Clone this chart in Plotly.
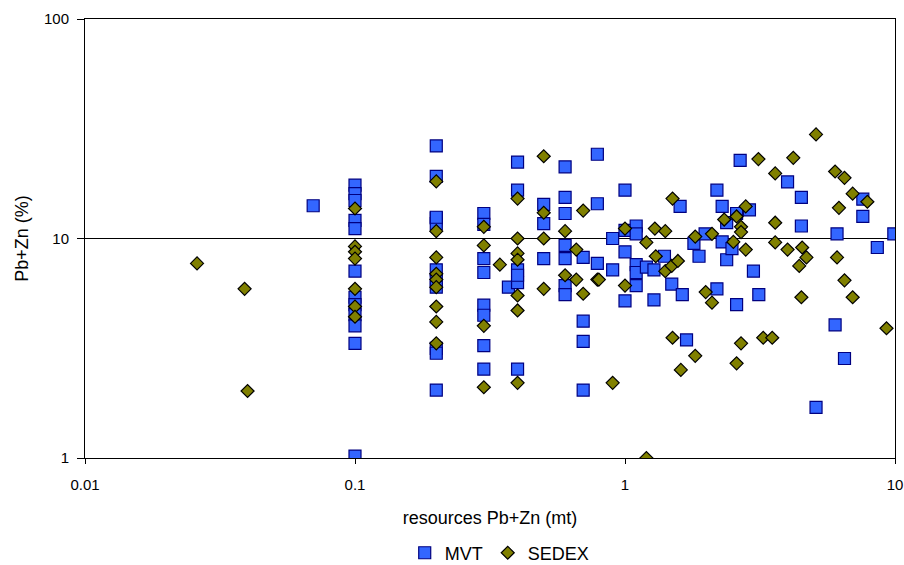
import plotly.graph_objects as go

# MVT deposits: resources Pb+Zn (mt), grade Pb+Zn (%)
mvt_x = [0.07,
         0.1, 0.1, 0.1, 0.1, 0.1, 0.1, 0.1, 0.1, 0.1, 0.1, 0.1, 0.1,
         0.2, 0.2, 0.2, 0.2, 0.2, 0.2, 0.2, 0.2, 0.2, 0.2, 0.2,
         0.3, 0.3, 0.3, 0.3, 0.3, 0.3, 0.3, 0.3,
         0.37,
         0.4, 0.4, 0.4, 0.4, 0.4, 0.4,
         0.5, 0.5, 0.5,
         0.6, 0.6, 0.6, 0.6, 0.6, 0.6, 0.6,
         0.7, 0.7, 0.7, 0.7,
         0.79, 0.79, 0.79, 0.9, 0.9,
         1.0, 1.0, 1.0, 1.0,
         1.1, 1.1, 1.1, 1.1, 1.1, 1.2, 1.28, 1.28, 1.4, 1.49, 1.6, 1.63, 1.69,
         1.8, 1.88, 1.98, 2.19, 2.19, 2.29, 2.29, 2.38, 2.38, 2.49, 2.59, 2.59, 2.67, 2.89, 2.99, 3.13,
         4.0, 4.5, 4.5, 5.1, 6.0, 6.1, 6.5, 7.6, 7.6, 8.6, 9.9]
mvt_y = [14.1,
         17.5, 16.0, 14.9, 12.1, 11.1, 7.1, 5.4, 5.0, 4.5, 4.0, 3.33, 1.02,
         26.4, 19.2, 12.4, 11.7, 7.2, 6.5, 6.0, 3.16, 3.0, 2.04, 12.5,
         13.0, 11.6, 8.1, 7.0, 4.97, 4.47, 3.25, 2.54,
         6.0,
         22.3, 16.6, 7.2, 6.3, 2.54, 6.8,
         14.3, 11.7, 8.1,
         21.2, 15.4, 13.0, 9.3, 8.1, 6.1, 5.55,
         8.2, 4.2, 3.4, 2.04,
         24.2, 14.4, 7.7, 10.0, 7.2,
         16.6, 8.7, 5.2, 10.9,
         11.4, 10.5, 7.6, 7.0, 6.1, 7.4, 7.2, 5.25, 8.3, 6.2, 14.0, 5.55, 3.45,
         9.5, 8.3, 10.5, 16.6, 5.9, 14.0, 9.65, 11.8, 8.0, 9.0, 13.0, 5.0, 22.7, 13.5, 7.1, 5.55,
         18.1, 15.4, 11.4, 1.7, 4.04, 10.5, 2.84, 15.1, 12.6, 9.1, 10.5]

# SEDEX deposits
sedex_x = [0.026, 0.039, 0.04,
           0.1, 0.1, 0.1, 0.1, 0.1, 0.1, 0.1,
           0.2, 0.2, 0.2, 0.2, 0.2, 0.2, 0.2, 0.2, 0.2,
           0.3, 0.3, 0.3, 0.3, 0.344,
           0.4, 0.4, 0.4, 0.4, 0.4, 0.4, 0.4,
           0.5, 0.5, 0.5, 0.5,
           0.6, 0.6, 0.66, 0.66, 0.7, 0.7, 0.79, 0.8, 0.9,
           1.0, 1.0, 1.2, 1.2, 1.29, 1.3, 1.41, 1.41, 1.49, 1.5, 1.5, 1.57, 1.61,
           1.82, 1.82, 1.99, 2.1, 2.1, 2.33, 2.52, 2.59, 2.59, 2.69, 2.69, 2.69, 2.8, 2.8,
           3.12, 3.25, 3.51, 3.6, 3.6, 3.6, 4.0, 4.2, 4.42, 4.5, 4.53, 4.7,
           5.1, 6.0, 6.1, 6.2, 6.5, 6.5, 6.97, 6.97, 7.9, 9.3]
sedex_y = [7.7, 5.9, 2.02,
           13.7, 9.2, 8.7, 8.1, 5.9, 4.9, 4.4,
           18.2, 10.8, 8.2, 6.9, 6.5, 6.0, 4.9, 4.17, 3.33,
           11.3, 9.3, 4.0, 2.1, 7.6,
           15.2, 10.0, 8.55, 8.0, 5.5, 4.7, 2.2,
           23.7, 13.1, 10.0, 5.9,
           10.8, 6.8, 8.9, 6.5, 13.4, 5.6, 6.5, 6.5, 2.2,
           11.1, 6.1, 9.6, 1.0, 11.1, 8.3, 10.8, 7.1, 7.5, 15.2, 3.53, 7.9, 2.52,
           10.2, 2.92, 5.7, 10.5, 5.1, 12.2, 9.65, 12.6, 2.7, 11.3, 10.7, 3.33, 14.0, 8.9,
           23.0, 3.53, 3.53, 19.8, 11.8, 9.6, 8.9, 23.3, 7.5, 5.4, 9.1, 8.2,
           29.8, 20.2, 8.2, 13.8, 18.9, 6.45, 16.0, 5.4, 14.7, 3.9]

x_ticks = [0.01, 0.1, 1, 10]
x_ticktext = ["0.01", "0.1", "1", "10"]
y_ticks = [1, 10, 100]
y_ticktext = ["1", "10", "100"]

fig = go.Figure()
fig.add_trace(go.Scatter(
    x=mvt_x, y=mvt_y, mode="markers", name="MVT",
    marker=dict(symbol="square", size=12, color="#3366FF",
                line=dict(color="#000080", width=1.2))))
fig.add_trace(go.Scatter(
    x=sedex_x, y=sedex_y, mode="markers", name="SEDEX",
    marker=dict(symbol="diamond", size=10, color="#808000",
                line=dict(color="#000000", width=1.2))))

font = "Liberation Sans, Arial, sans-serif"
fig.update_layout(
    width=904, height=565,
    margin=dict(l=85, r=9, t=19, b=107, autoexpand=False),
    paper_bgcolor="white", plot_bgcolor="white",
    font=dict(family=font, size=15, color="black"),
    showlegend=True,
    legend=dict(orientation="h", x=0.512, xanchor="center", y=-0.2165, yanchor="middle",
                font=dict(size=18), itemwidth=30, tracegroupgap=0),
    xaxis=dict(type="log", range=[-2, 1], tickvals=x_ticks, ticktext=x_ticktext,
               showgrid=False, showline=True, linecolor="black", linewidth=1, mirror=True,
               ticks="outside", ticklen=5, tickcolor="black", zeroline=False,
               automargin=False,
               ticklabelstandoff=8, ticklabeloverflow="allow",
               tickfont=dict(size=15),
               title=dict(text="resources Pb+Zn (mt)", standoff=19, font=dict(size=18))),
    yaxis=dict(type="log", range=[0, 2], tickvals=y_ticks, ticktext=y_ticktext,
               showgrid=True, gridcolor="black", gridwidth=1,
               showline=True, linecolor="black", linewidth=1, mirror=True,
               ticks="outside", ticklen=7, tickcolor="black", zeroline=False,
               automargin=False,
               ticklabelstandoff=5, tickfont=dict(size=15),
               title=dict(text="Pb+Zn (%)", standoff=10, font=dict(size=18))),
)
fig.write_html("out.html",
               config={"displayModeBar": False},
               post_script="document.body.style.margin='0px';document.body.style.overflow='hidden';")
